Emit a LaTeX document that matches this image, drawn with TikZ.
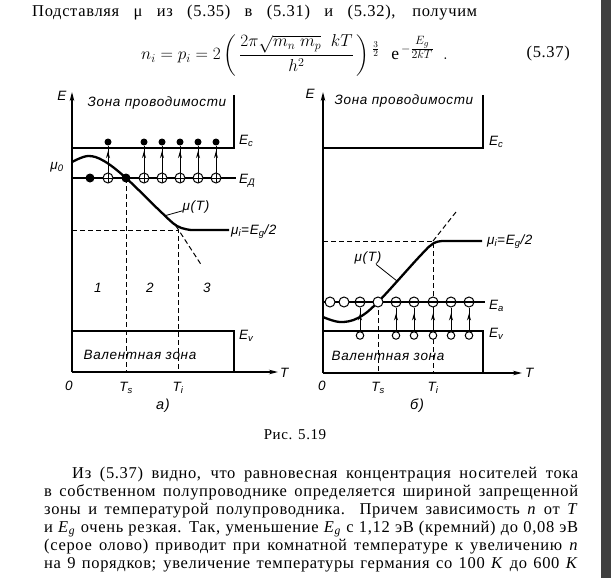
\documentclass[tikz,border=0pt]{standalone}
\usepackage{amsmath}
\usepackage{fontspec}
\setmainfont{Liberation Serif}
\newfontfamily\bodyfont{Liberation Serif}[LetterSpace=4]
\newfontfamily\lblfont{Liberation Sans}[LetterSpace=5]
\usetikzlibrary{arrows.meta}
\usetikzlibrary{decorations.markings}

\begin{document}
\begin{tikzpicture}[x = 1pt, y = -1pt,
    band/.style = {line width = 1.9pt},
    axis/.style = {line width = 1.4pt, -{Stealth[length = 9pt, width = 4.5pt]}},
    level/.style = {line width = 1.5pt},
    curve/.style = {line width = 2.3pt, line join = round},
    guide/.style = {line width = 1pt, dash pattern = on 5pt off 3pt},
    lbl/.style = {font = \lblfont\itshape\fontsize{13.5}{13.5}\selectfont, inner sep = 0pt},
    body/.style = {font = \bodyfont\fontsize{16.5}{18}\selectfont, inner sep = 0pt, anchor = base west},
    ion/.style = {circle, draw, fill = white, line width = 1pt, minimum size = 10pt, inner sep = 0pt},
    plus/.style = {ion, path picture = {\draw[line width = 1pt] (path picture bounding box.north) -- (path picture bounding box.south) (path picture bounding box.west) -- (path picture bounding box.east);}},
    minus/.style = {ion, path picture = {\draw[line width = 1.2pt] (path picture bounding box.west) -- (path picture bounding box.east);}},
    hole/.style = {circle, draw, fill = white, line width = 1pt, minimum size = 7.5pt, inner sep = 0pt},
    bound/.style = {circle, fill = black, minimum size = 9pt, inner sep = 0pt},
    electron/.style = {circle, fill = black, minimum size = 7pt, inner sep = 0pt},
    lift/.style = {line width = 1pt, postaction = {decorate}, decoration = {markings, mark = at position #1 with {\arrow{Stealth[length = 7pt, width = 4pt]}}}},
    ]
    \useasboundingbox (0, 0) rectangle (611, 578);
    \fill[white] (0, 0) rectangle (611, 578);
    \fill[black!75] (601, 0) rectangle (611, 578);

    \node[body] (intro) at (32, 17) {\makebox[445pt][s]{Подставляя μ из (5.35) в (5.31) и (5.32), получим}};
    \node[font = \fontsize{17.5}{21}\selectfont, inner sep = 0pt, anchor = base west] (eq) at (141, 60) {$n_i = p_i = 2\left(\,\dfrac{2\pi\sqrt{m_n\;m_p}\;\;kT}{h^2}\,\right)\raisebox{8pt}{$\scriptstyle\frac{3}{2}$}\hspace{12pt}\mathrm{e}^{\,-\frac{\scriptstyle E_g}{\scriptstyle 2kT}}\hspace{9pt}.$};
    \node[body, anchor = base east] (eqno) at (570, 58) {(5.37)};

    % a)
    \coordinate (Oa) at (72, 372);
    \coordinate (Ea) at (72, 92);
    \coordinate (Ta) at (278, 372);
    \draw[axis] (Oa) -- (Ea);
    \draw[axis] (Oa) -- (Ta);
    \draw[band] (234, 95) -- (234, 148) -- (72, 148);
    \draw[band] (72, 331) -- (234, 331) -- (234, 372);
    \draw[level] (72, 178) -- (236, 178);

    \draw[guide] (72, 230) -- (178, 230) -- (178, 372);
    \draw[guide] (126, 178) -- (126, 372);
    \draw[guide] (176, 226) -- (202, 266);

    \draw[curve] plot[smooth, tension = 0.6] coordinates {(72, 162) (88, 156) (104, 161) (126, 178) (160, 211) (177, 226) (191, 230)} -- (229, 230);

    \node[bound] (b1) at (90, 178) {};
    \node[bound] (b2) at (126, 178) {};
    \foreach \x [count = \i] in {108, 144, 162, 180, 198, 216} {
        \node[plus] (d\i) at (\x, 178) {};
        \node[electron] (e\i) at (\x, 142) {};
        \draw[lift = 0.8] (d\i) -- (e\i);
    }

    \node[lbl] (EA) at (62, 96) {E};
    \node[lbl] (cbA) at (157, 103) {Зона проводимости};
    \node[lbl, anchor = west] (EcA) at (239, 141) {E\textsubscript{c}};
    \node[lbl, anchor = west] (EdA) at (239, 181) {E\textsubscript{Д}};
    \node[lbl] (mu0) at (57, 167) {μ\textsubscript{0}};
    \node[lbl] (muTa) at (196, 207) {μ(T)};
    \coordinate (onA) at (164, 216);
    \draw[line width = 0.8pt] (muTa) -- (onA);
    \node[lbl, anchor = west] (muiA) at (231, 232) {μ\textsubscript{i}=E\textsubscript{g}/2};
    \node[lbl] (r1) at (98, 288) {1};
    \node[lbl] (r2) at (150, 288) {2};
    \node[lbl] (r3) at (207, 288) {3};
    \node[lbl, anchor = west] (EvA) at (239, 336) {E\textsubscript{v}};
    \node[lbl] (vbA) at (140, 355) {Валентная зона};
    \node[lbl] (zeroA) at (69, 386) {0};
    \node[lbl] (TsA) at (126, 388) {T\textsubscript{s}};
    \node[lbl] (TiA) at (178, 388) {T\textsubscript{i}};
    \node[lbl, anchor = west] (TA) at (280, 373) {T};
    \node[lbl, font = \lblfont\itshape\fontsize{14.5}{14.5}\selectfont] (capA) at (163, 406) {а)};

    % b)
    \coordinate (Ob) at (323, 373);
    \coordinate (Eb) at (323, 92);
    \coordinate (Tb) at (522, 373);
    \draw[axis] (Ob) -- (Eb);
    \draw[axis] (Ob) -- (Tb);
    \draw[band] (483, 95) -- (483, 148) -- (323, 148);
    \draw[band] (323, 331) -- (483, 331) -- (483, 373);
    \draw[level] (323, 302) -- (485, 302);

    \draw[guide] (323, 241) -- (433, 241) -- (433, 373);
    \draw[guide] (378, 302) -- (378, 373);
    \draw[guide] (433, 241) -- (456, 212);

    \draw[curve] plot[smooth, tension = 0.6] coordinates {(323, 317) (340, 322) (358, 318) (378, 302) (420, 256) (434, 243) (446, 241)} -- (482, 241);

    \node[ion] (a1) at (330, 302) {};
    \node[ion] (a2) at (344, 302) {};
    \node[ion] (a3) at (378, 302) {};
    \foreach \x [count = \i] in {360, 396, 414, 433, 451, 469} {
        \node[minus] (m\i) at (\x, 302) {};
        \node[hole] (h\i) at (\x, 335.5) {};
        \draw[lift = 0.75] (h\i) -- (m\i);
    }

    \node[lbl] (EB) at (310, 94) {E};
    \node[lbl] (cbB) at (404, 101) {Зона проводимости};
    \node[lbl, anchor = west] (EcB) at (489, 142) {E\textsubscript{c}};
    \node[lbl, anchor = west] (muiB) at (487, 242) {μ\textsubscript{i}=E\textsubscript{g}/2};
    \node[lbl] (muTb) at (368, 258) {μ(T)};
    \coordinate (onB) at (397, 281);
    \draw[line width = 0.8pt] (muTb) -- (onB);
    \node[lbl, anchor = west] (EaB) at (489, 306) {E\textsubscript{a}};
    \node[lbl, anchor = west] (EvB) at (489, 334) {E\textsubscript{v}};
    \node[lbl] (vbB) at (388, 356) {Валентная зона};
    \node[lbl] (zeroB) at (322, 386) {0};
    \node[lbl] (TsB) at (378, 388) {T\textsubscript{s}};
    \node[lbl] (TiB) at (433, 388) {T\textsubscript{i}};
    \node[lbl, anchor = west] (TB) at (525, 373) {T};
    \node[lbl, font = \lblfont\itshape\fontsize{14.5}{14.5}\selectfont] (capB) at (417, 406) {б)};

    \node[font = \bodyfont\fontsize{15}{17}\selectfont] (fig) at (295, 435) {Рис. 5.19};

    \node[body] (l1) at (72, 478) {\makebox[506pt][s]{Из (5.37) видно, что равновесная концентрация носителей тока}};
    \node[body] (l2) at (44, 496) {\makebox[534pt][s]{в собственном полупроводнике определяется шириной запрещенной}};
    \node[body] (l3) at (44, 514) {\makebox[534pt][s]{зоны и температурой полупроводника. Причем зависимость \textit{n} от \textit{T}}};
    \node[body] (l4) at (44, 532) {\makebox[534pt][s]{и \textit{E}\textsubscript{\textit{g}} очень резкая. Так, уменьшение \textit{E}\textsubscript{\textit{g}} с 1,12 эВ (кремний) до 0,08 эВ}};
    \node[body] (l5) at (44, 550) {\makebox[534pt][s]{(серое олово) приводит при комнатной температуре к увеличению \textit{n}}};
    \node[body] (l6) at (44, 568) {\makebox[534pt][s]{на 9 порядков; увеличение температуры германия со 100 \textit{K} до 600 \textit{K}}};
\end{tikzpicture}
\end{document}
